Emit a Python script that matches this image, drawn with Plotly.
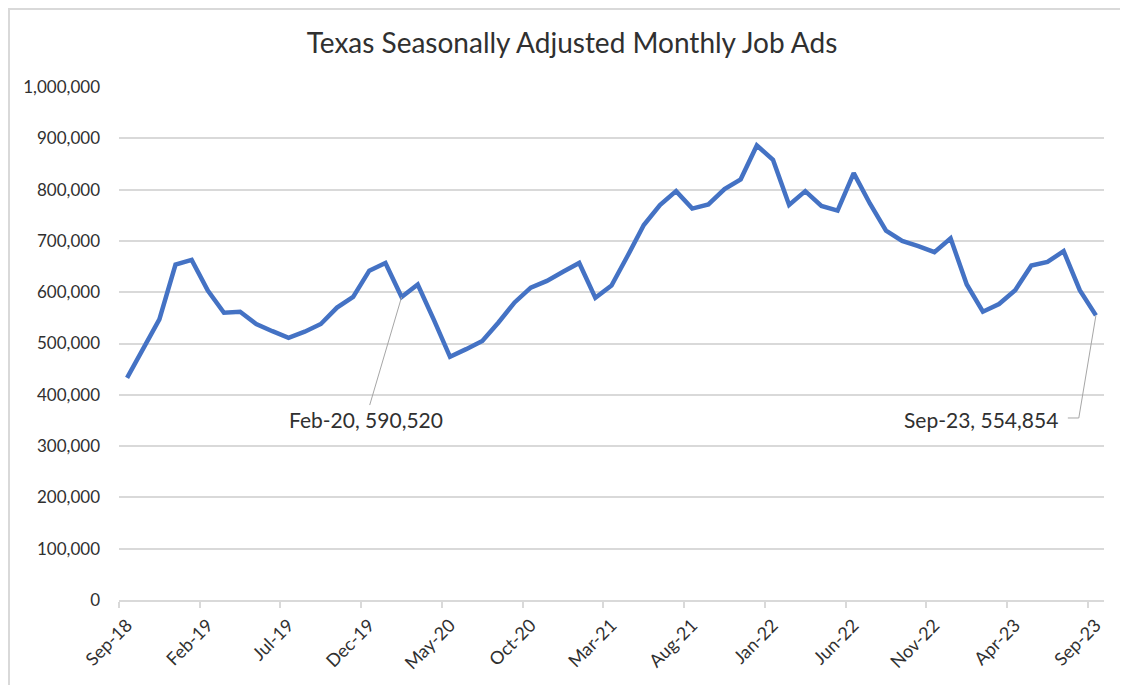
import plotly.graph_objects as go

# --- data: Texas seasonally adjusted monthly job ads, Sep-18 .. Sep-23 ---
months = [
    "Sep-18", "Oct-18", "Nov-18", "Dec-18", "Jan-19", "Feb-19", "Mar-19", "Apr-19", "May-19", "Jun-19",
    "Jul-19", "Aug-19", "Sep-19", "Oct-19", "Nov-19", "Dec-19", "Jan-20", "Feb-20", "Mar-20", "Apr-20",
    "May-20", "Jun-20", "Jul-20", "Aug-20", "Sep-20", "Oct-20", "Nov-20", "Dec-20", "Jan-21", "Feb-21",
    "Mar-21", "Apr-21", "May-21", "Jun-21", "Jul-21", "Aug-21", "Sep-21", "Oct-21", "Nov-21", "Dec-21",
    "Jan-22", "Feb-22", "Mar-22", "Apr-22", "May-22", "Jun-22", "Jul-22", "Aug-22", "Sep-22", "Oct-22",
    "Nov-22", "Dec-22", "Jan-23", "Feb-23", "Mar-23", "Apr-23", "May-23", "Jun-23", "Jul-23", "Aug-23",
    "Sep-23",
]
job_ads = [
    433000, 490000, 547000, 654000, 663000, 603000, 560000, 562000, 538000, 524000,
    511000, 523000, 538000, 570000, 591000, 642000, 657000, 590520, 615000, 546000,
    474000, 489000, 505000, 541000, 580000, 609000, 622000, 640000, 657000, 589000,
    613000, 671000, 731000, 770000, 797000, 763000, 771000, 801000, 820000, 886000,
    858000, 770000, 797000, 768000, 759000, 832000, 773000, 720000, 700000, 690000,
    678000, 705000, 615000, 562000, 577000, 604000, 652000, 659000, 680000, 604000,
    554854,
]
tick_step = 5  # a label every 5 months

x_idx = list(range(len(months)))
tick_pos = [i - 0.5 for i in x_idx[::tick_step]]
tick_txt = months[::tick_step]

FONT = "Lato, 'Noto Sans', sans-serif"
GRID = "#d9d9d9"
TXT = "#303030"

fig = go.Figure()
fig.add_trace(go.Scatter(
    x=x_idx, y=job_ads, mode="lines",
    line=dict(color="#4472c4", width=4.5),
    hoverinfo="skip", showlegend=False,
))

# data label: Feb-20
i_feb = months.index("Feb-20")
fig.add_annotation(
    x=i_feb, y=job_ads[i_feb],
    text=f"{months[i_feb]}, {job_ads[i_feb]:,}",
    showarrow=True, arrowhead=0, arrowwidth=1, arrowcolor="#a6a6a6",
    ax=-36, ay=122, standoff=0,
    font=dict(family=FONT, size=21, color=TXT),
)

# data label: last month, with a bent leader line
i_last = len(months) - 1
fig.add_annotation(
    x=i_last - 7.1, y=352800, xref="x", yref="y",
    text=f"{months[i_last]}, {job_ads[i_last]:,}",
    showarrow=False, xanchor="center", yanchor="middle",
    font=dict(family=FONT, size=21, color=TXT),
)
fig.add_shape(
    type="path", xref="x", yref="y",
    path=f"M {i_last},{job_ads[i_last]} L {i_last - 1.06},354800 L {i_last - 1.74},354800",
    line=dict(color="#a6a6a6", width=1),
)

# chart border (Excel chart area, cut at right/bottom)
fig.add_shape(
    type="rect", xref="paper", yref="paper",
    x0=-0.1117, y0=-0.5, x1=1.5, y1=1.1520,
    line=dict(color=GRID, width=2), layer="below",
)

# page body adds 8px; figure sized so the plot sits where the original does
fig.update_layout(
    width=1120, height=677,
    paper_bgcolor="white", plot_bgcolor="white",
    margin=dict(l=111, r=24, t=79, b=85),
    title=dict(
        text="Texas Seasonally Adjusted Monthly Job Ads",
        x=564 / 1120, xanchor="center", xref="container",
        y=1 - 35 / 677, yanchor="middle", yref="container",
        font=dict(family=FONT, size=28, color=TXT),
    ),
    font=dict(family=FONT, size=17, color=TXT),
)

fig.update_xaxes(
    range=[-0.5, len(months) - 0.5],
    tickmode="array", tickvals=tick_pos, ticktext=tick_txt,
    tickangle=-45, ticks="outside", ticklen=6, tickcolor=GRID, tickwidth=1.5,
    ticklabelshift=8,
    showline=True, linecolor=GRID, linewidth=1.5,
    showgrid=False, zeroline=False,
    tickfont=dict(family=FONT, size=18, color=TXT),
)
fig.update_yaxes(
    range=[0, 1000000], dtick=100000, tickformat=",",
    showgrid=True, gridcolor=GRID, gridwidth=1.5,
    zeroline=False, showline=False,
    ticks="", ticklabelstandoff=18,
    tickfont=dict(family=FONT, size=17, color=TXT),
)

fig.write_html("out.html")
